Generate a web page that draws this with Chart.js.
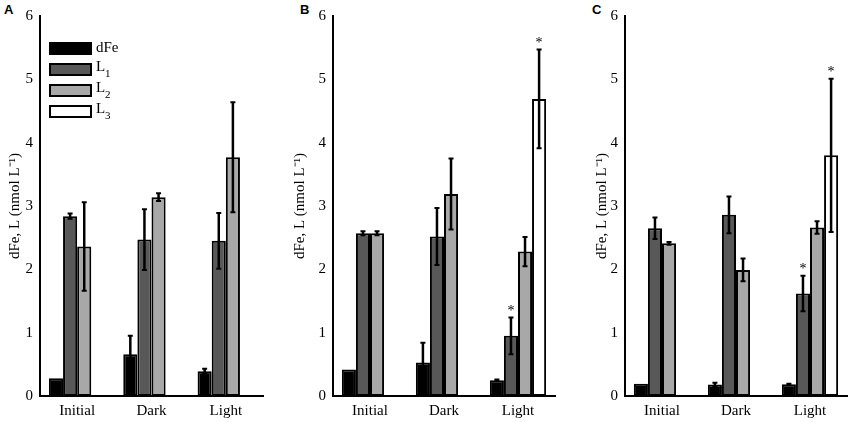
<!DOCTYPE html>
<html>
<head>
<meta charset="utf-8">
<script src="https://cdn.jsdelivr.net/npm/chart.js@4.4.1/dist/chart.umd.min.js"></script>
<style>
  body { margin: 0; background: #fff; width: 851px; height: 422px; position: relative; overflow: hidden; }
  .panel { position: absolute; top: 0; height: 422px; }
  .tag { position: absolute; top: 3px; font: bold 13px "Liberation Sans", Arial, sans-serif; line-height: 13px; color: #000; }
</style>
</head>
<body>
<div class="tag" style="left:4px">A</div>
<div class="tag" style="left:300px">B</div>
<div class="tag" style="left:592px">C</div>
<div class="panel" style="left:0px"><canvas id="chartA" width="285" height="422"></canvas></div>
<div class="panel" style="left:288px"><canvas id="chartB" width="290" height="422"></canvas></div>
<div class="panel" style="left:585px"><canvas id="chartC" width="266" height="422"></canvas></div>
<script>
const categories = ["Initial", "Dark", "Light"];
const seriesNames = ["dFe", "L1", "L2", "L3"];
const seriesColors = ["#000000", "#585858", "#a8a8a8", "#ffffff"];
const yTicks = [0, 1, 2, 3, 4, 5, 6];

// Panel A
const dFeA = [0.28, 0.66, 0.39];
const L1A = [2.84, 2.47, 2.45];
const L2A = [2.36, 3.14, 3.77];
const L3A = [null, null, null];
const dFeErrA = [0, 0.29, 0.04];
const L1ErrA = [0.04, 0.48, 0.44];
const L2ErrA = [0.70, 0.06, 0.87];
const L3ErrA = [0, 0, 0];

// Panel B
const dFeB = [0.42, 0.53, 0.25];
const L1B = [2.57, 2.52, 0.95];
const L2B = [2.57, 3.19, 2.28];
const L3B = [null, null, 4.69];
const dFeErrB = [0, 0.31, 0.01];
const L1ErrB = [0.03, 0.45, 0.29];
const L2ErrB = [0.03, 0.56, 0.23];
const L3ErrB = [0, 0, 0.78];
const L1StarB = [false, false, true];
const L3StarB = [false, false, true];

// Panel C
const dFeC = [0.195, 0.18, 0.185];
const L1C = [2.65, 2.86, 1.62];
const L2C = [2.41, 1.99, 2.66];
const L3C = [null, null, 3.80];
const dFeErrC = [0, 0.03, 0.01];
const L1ErrC = [0.17, 0.29, 0.28];
const L2ErrC = [0.02, 0.18, 0.10];
const L3ErrC = [0, 0, 1.21];
const L1StarC = [false, false, true];
const L3StarC = [false, false, true];

const noStars = [false, false, false];
const serif = '"Liberation Serif", "Times New Roman", serif';

// draws error bars and significance stars on top of the bars
const errorBarPlugin = {
  id: "errorBars",
  afterDatasetsDraw(chart) {
    const ctx = chart.ctx;
    const y = chart.scales.y;
    ctx.save();
    ctx.strokeStyle = "#000";
    ctx.fillStyle = "#000";
    chart.data.datasets.forEach((ds, di) => {
      const meta = chart.getDatasetMeta(di);
      meta.data.forEach((bar, i) => {
        const v = ds.data[i];
        if (v === null || v === undefined) return;
        const e = ds.errors[i];
        const top = y.getPixelForValue(v + e);
        if (e > 0) {
          const bot = y.getPixelForValue(Math.max(v - e, 0));
          ctx.lineWidth = 2.5;
          ctx.beginPath();
          ctx.moveTo(bar.x, top);
          ctx.lineTo(bar.x, bot);
          ctx.stroke();
          ctx.lineWidth = 2;
          ctx.beginPath();
          ctx.moveTo(bar.x - 2.5, top);
          ctx.lineTo(bar.x + 2.5, top);
          ctx.moveTo(bar.x - 2.5, bot);
          ctx.lineTo(bar.x + 2.5, bot);
          ctx.stroke();
        }
        if (ds.stars[i]) {
          ctx.font = "14px " + serif;
          ctx.textAlign = "center";
          ctx.textBaseline = "middle";
          ctx.fillText("*", bar.x, top - 6);
        }
      });
    });
    ctx.restore();
  }
};

// legend inside the plot area, with subscripted labels
const innerLegend = {
  id: "innerLegend",
  afterDraw(chart, args, opts) {
    if (!opts.show) return;
    const ctx = chart.ctx;
    const x0 = chart.chartArea.left + 9;
    const y0 = chart.chartArea.top + 26;
    ctx.save();
    chart.data.datasets.forEach((ds, i) => {
      const yy = y0 + i * 21;
      ctx.fillStyle = ds.backgroundColor;
      ctx.fillRect(x0, yy, 43, 13);
      ctx.strokeStyle = "#000";
      ctx.lineWidth = 2;
      ctx.strokeRect(x0 + 1, yy + 1, 41, 11);
      ctx.fillStyle = "#000";
      ctx.textAlign = "left";
      ctx.textBaseline = "middle";
      const m = ds.label.match(/^L(\d)$/);
      if (m) {
        ctx.font = "15px " + serif;
        ctx.fillText("L", x0 + 47, yy + 4);
        ctx.font = "11px " + serif;
        ctx.fillText(m[1], x0 + 56, yy + 11);
      } else {
        ctx.font = "15px " + serif;
        ctx.fillText(ds.label, x0 + 47, yy + 6);
      }
    });
    ctx.restore();
  }
};

function makePanel(id, values, errors, stars, cfg) {
  const datasets = seriesNames.map((name, k) => ({
    label: name,
    data: values[k],
    errors: errors[k],
    stars: stars[k],
    backgroundColor: seriesColors[k],
    borderColor: "#000",
    borderWidth: 2,
    borderSkipped: false,
    categoryPercentage: 0.76,
    barPercentage: 1.0
  }));
  new Chart(document.getElementById(id), {
    type: "bar",
    data: { labels: categories, datasets: datasets },
    plugins: [errorBarPlugin, innerLegend],
    options: {
      responsive: false,
      animation: false,
      layout: { padding: { left: 0, right: cfg.padRight, top: 7, bottom: 0 } },
      plugins: {
        legend: { display: false },
        tooltip: { enabled: false },
        innerLegend: { show: cfg.legend }
      },
      scales: {
        x: {
          grid: { display: false, drawTicks: false },
          border: { display: true, color: "#000", width: 2 },
          ticks: { color: "#000", padding: 6, font: { family: serif, size: 15 } },
          afterFit(scale) { scale.height = 26; }
        },
        y: {
          min: 0,
          max: 6,
          afterBuildTicks(scale) { scale.ticks = yTicks.map(v => ({ value: v })); },
          grid: { display: false, drawTicks: false },
          border: { display: true, color: "#000", width: 2 },
          ticks: { color: "#000", padding: 7, font: { family: serif, size: 15 } },
          title: {
            display: true,
            text: "dFe, L (nmol L\u207B\u00B9)",
            color: "#000",
            font: { family: serif, size: 15 },
            padding: { top: cfg.titlePad, bottom: 0 }
          },
          afterFit(scale) { scale.width = cfg.yWidth; }
        }
      }
    }
  });
}

makePanel("chartA",
  [dFeA, L1A, L2A, L3A],
  [dFeErrA, L1ErrA, L2ErrA, L3ErrA],
  [noStars, noStars, noStars, noStars],
  { padRight: 22, yWidth: 40, titlePad: 6, legend: true });

makePanel("chartB",
  [dFeB, L1B, L2B, L3B],
  [dFeErrB, L1ErrB, L2ErrB, L3ErrB],
  [noStars, L1StarB, noStars, L3StarB],
  { padRight: 23, yWidth: 45, titlePad: 3, legend: false });

makePanel("chartC",
  [dFeC, L1C, L2C, L3C],
  [dFeErrC, L1ErrC, L2ErrC, L3ErrC],
  [noStars, L1StarC, noStars, L3StarC],
  { padRight: 4, yWidth: 40, titlePad: 8, legend: false });
</script>
</body>
</html>
